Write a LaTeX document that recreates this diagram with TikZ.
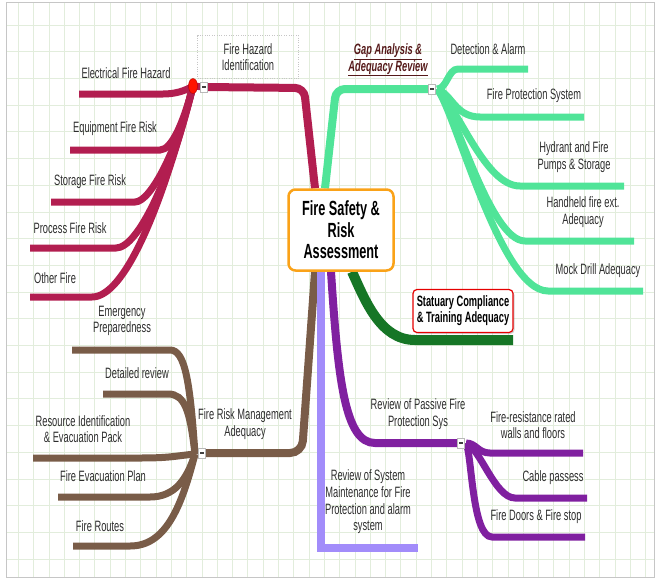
\documentclass[tikz,border=0pt]{standalone}
\usepackage{fontspec}
\setmainfont{Liberation Sans}[FakeStretch=0.62]
\usetikzlibrary{shadows,shapes.geometric}

\definecolor{crimson}{RGB}{178,30,80}
\definecolor{mint}{RGB}{80,228,152}
\definecolor{bark}{RGB}{121,92,72}
\definecolor{lilac}{RGB}{162,140,250}
\definecolor{plum}{RGB}{128,32,160}
\definecolor{forest}{RGB}{22,118,38}
\definecolor{amber}{RGB}{250,162,24}
\definecolor{gridline}{RGB}{226,237,220}
\definecolor{txt}{RGB}{45,45,45}
\definecolor{gapink}{RGB}{85,25,25}

\pgfdeclarelayer{bg}
\pgfsetlayers{bg,main}

\begin{document}
\begin{tikzpicture}[x=1pt,y=-1pt,
  lbl/.style={font=\fontsize{15}{16.7}\selectfont,text=txt,align=center,inner sep=0pt},
  limb/.style={line width=8pt},
  twig/.style={line width=7pt},
  toggle/.style={draw=gray!55,fill=white,minimum width=7pt,minimum height=10pt,inner sep=0pt,text=black!75}
]
  \useasboundingbox (0,0) rectangle (655,581);

  % central topic
  \node[draw=amber,line width=2.5pt,rounded corners=7pt,fill=white,minimum width=105pt,minimum height=81pt,
    align=center,inner sep=0pt,font=\bfseries\fontsize{20.5}{21.5}\selectfont] (core) at (341,230)
    {Fire Safety \&\\Risk\\Assessment};

  % collapse toggles and hubs
  \node[toggle] (fhi-tog) at (204,87) {\rule{3.5pt}{1.4pt}};
  \node[toggle] (gap-tog) at (432,89) {\rule{3.5pt}{1.4pt}};
  \node[toggle] (frm-tog) at (202,453) {\rule{3.5pt}{1.4pt}};
  \node[toggle] (ppf-tog) at (461,443) {\rule{3.5pt}{1.4pt}};
  \node[ellipse,fill=red!85!orange,draw=red!70!black,line width=.4pt,minimum width=9pt,minimum height=15pt,inner sep=0pt] (fhi-dot) at (193,86) {};
  \coordinate (gap-hub) at (437,89);
  \coordinate (frm-hub) at (195,454);
  \coordinate (ppf-hub) at (466,443);

  % free ends of the branches
  \coordinate (efh-end) at (79,94);
  \coordinate (eqr-end) at (70,150);
  \coordinate (sfr-end) at (51,202);
  \coordinate (pfr-end) at (30,248);
  \coordinate (otf-end) at (30,297);
  \coordinate (dal-end) at (528,69);
  \coordinate (fps-end) at (584,117);
  \coordinate (hyd-end) at (624,186);
  \coordinate (hfe-end) at (634,241);
  \coordinate (mda-end) at (643,291);
  \coordinate (stc-end) at (513,340);
  \coordinate (frw-end) at (583,453);
  \coordinate (cbl-end) at (587,498);
  \coordinate (fds-end) at (585,537);
  \coordinate (rsm-end) at (418,548);
  \coordinate (emp-end) at (72,350);
  \coordinate (dtr-end) at (103,394);
  \coordinate (rie-end) at (33,458);
  \coordinate (fep-end) at (58,497);
  \coordinate (fro-end) at (73,546);

  \begin{pgfonlayer}{bg}
    % grid paper
    \begin{scope}
      \clip (6,2) rectangle (654,577);
      \foreach \k in {0,...,41}
        \draw[gridline,line width=.8pt] ({18.3+15.3*\k},2) -- ({18.3+15.3*\k},577);
      \foreach \k in {0,...,20}
        \draw[gridline,line width=.8pt] (6,{25+26.7*\k}) -- (654,{25+26.7*\k});
    \end{scope}
    \draw[gray!45,line width=1pt] (6,2) rectangle (654,577);

    % main branches
    \draw[limb,crimson,rounded corners=9pt] ([xshift=-26pt]core.north) -- (304,88) -- (fhi-tog.center);
    \draw[limb,mint,rounded corners=9pt] ([xshift=-16pt]core.north) -- (336,89) -- (gap-tog.center);
    \draw[limb,bark,rounded corners=12pt] ([xshift=-26pt]core.south) -- (302,453) -- (frm-tog.center);
    \draw[limb,lilac] ([xshift=-20pt]core.south) -- (321,548) -- (rsm-end);
    \draw[limb,plum] ([xshift=-10pt]core.south) .. controls (338,380) and (345,443) .. (375,443) -- (ppf-tog.center);
    \draw[line width=10pt,forest] ([xshift=11pt]core.south) .. controls (365,300) and (380,340) .. (415,340) -- (stc-end);

    % fire hazard children
    \draw[twig,crimson] (fhi-tog.center) -- (fhi-dot.center);
    \draw[twig,crimson] (fhi-dot.center) .. controls +(-8,5) and +(12,0) .. (163,94) -- (efh-end);
    \draw[twig,crimson] (fhi-dot.center) .. controls +(-9,35) and +(12,0) .. (160,150) -- (eqr-end);
    \draw[twig,crimson] (fhi-dot.center) .. controls +(-15,62) and +(16,0) .. (135,202) -- (sfr-end);
    \draw[twig,crimson] (fhi-dot.center) .. controls +(-22,92) and +(22,0) .. (116,248) -- (pfr-end);
    \draw[twig,crimson] (fhi-dot.center) .. controls +(-32,125) and +(32,0) .. (92,297) -- (otf-end);

    % gap analysis children
    \draw[twig,mint] (gap-hub) .. controls +(10,0) and +(-10,0) .. (458,69) -- (dal-end);
    \draw[twig,mint] (gap-hub) .. controls +(15,5) and +(-25,0) .. (480,117) -- (fps-end);
    \draw[twig,mint] (gap-hub) .. controls +(22,20) and +(-35,0) .. (520,186) -- (hyd-end);
    \draw[twig,mint] (gap-hub) .. controls +(18,20) and +(-35,0) .. (525,241) -- (hfe-end);
    \draw[twig,mint] (gap-hub) .. controls +(18,21) and +(-48,0) .. (548,291) -- (mda-end);

    % passive protection children
    \draw[twig,plum] (ppf-hub) .. controls +(10,0) and +(-12,0) .. (490,453) -- (frw-end);
    \draw[twig,plum] (ppf-hub) .. controls +(14,5) and +(-20,0) .. (515,498) -- (cbl-end);
    \draw[twig,plum] (ppf-hub) .. controls +(6,12) and +(-20,0) .. (492,537) -- (fds-end);

    % risk management children
    \draw[twig,bark] (frm-hub) .. controls +(-5,-73) and +(15,0) .. (170,350) -- (emp-end);
    \draw[twig,bark] (frm-hub) .. controls +(-5,-43) and +(17,0) .. (168,394) -- (dtr-end);
    \draw[twig,bark] (frm-hub) .. controls +(-20,2) and +(30,0) .. (140,458) -- (rie-end);
    \draw[twig,bark] (frm-hub) .. controls +(-8,25) and +(25,0) .. (150,497) -- (fep-end);
    \draw[twig,bark] (frm-hub) .. controls +(-14,55) and +(35,0) .. (130,546) -- (fro-end);
  \end{pgfonlayer}

  % branch labels
  \node[lbl,draw=gray!45,dotted,minimum width=101pt,minimum height=43pt] (fhi) at (248,57) {Fire Hazard\\Identification};
  \node[lbl] (efh) at (126,73) {Electrical Fire Hazard};
  \node[lbl] (eqr) at (115,129) {Equipment Fire Risk};
  \node[lbl] (sfr) at (90,182) {Storage Fire Risk};
  \node[lbl] (pfr) at (70,228) {Process Fire Risk};
  \node[lbl] (otf) at (55,278) {Other Fire};

  \node[lbl,font=\bfseries\itshape\fontsize{15}{16.5}\selectfont,text=gapink] (gap) at (388,60)
    {\underline{Gap Analysis \&}\\\underline{Adequacy Review}};
  \node[lbl] (dal) at (488,49) {Detection \& Alarm};
  \node[lbl] (fps) at (534,96) {Fire Protection System};
  \node[lbl] (hyd) at (574,157) {Hydrant and Fire\\Pumps \& Storage};
  \node[lbl] (hfe) at (583,212) {Handheld fire ext.\\Adequacy};
  \node[lbl] (mda) at (598,271) {Mock Drill Adequacy};

  \node[draw=red!90!black,line width=1.2pt,rounded corners=4pt,fill=white,
    drop shadow={opacity=.35,shadow xshift=1.5pt,shadow yshift=-1.5pt},
    minimum width=100pt,minimum height=43pt,inner sep=0pt,align=center,
    font=\bfseries\fontsize{15}{16}\selectfont] (stc) at (463,311) {Statuary Compliance\\\& Training Adequacy};

  \node[lbl] (ppf) at (418,414) {Review of Passive Fire\\Protection Sys};
  \node[lbl] (frw) at (533,425) {Fire-resistance rated\\walls and floors};
  \node[lbl] (cbl) at (553,478) {Cable passess};
  \node[lbl] (fds) at (536,517) {Fire Doors \& Fire stop};

  \node[lbl] (rsm) at (368,502) {Review of System\\Maintenance for Fire\\Protection and alarm\\system};

  \node[lbl] (frm) at (245,424) {Fire Risk Management\\Adequacy};
  \node[lbl] (emp) at (122,321) {Emergency\\Preparedness};
  \node[lbl] (dtr) at (137,373) {Detailed review};
  \node[lbl] (rie) at (83,429) {Resource Identification\\\& Evacuation Pack};
  \node[lbl] (fep) at (103,476) {Fire Evacuation Plan};
  \node[lbl] (fro) at (100,526) {Fire Routes};
\end{tikzpicture}
\end{document}
